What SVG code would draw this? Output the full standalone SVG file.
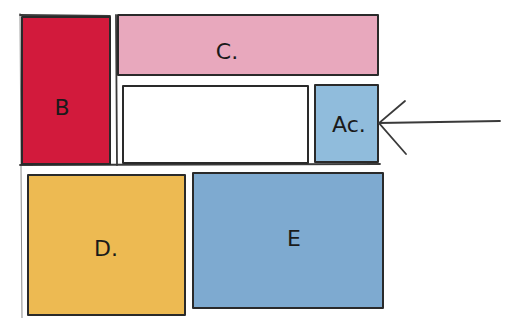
<svg xmlns="http://www.w3.org/2000/svg" width="507" height="324" viewBox="0 0 507 324">
<style>
.box{stroke:#2a2a2a;stroke-width:2;stroke-linejoin:round}
.ln{stroke:#3a3a3a;stroke-width:1.8;fill:none;stroke-linecap:round}
.thin{stroke:#8a8a8a;stroke-width:1;fill:none}
.lbl{font-family:"DejaVu Sans",sans-serif;font-size:22px;fill:#1a1a1a;text-anchor:middle;dominant-baseline:central}
</style>
<rect width="507" height="324" fill="#ffffff"/>
<g id="frame">
<line class="thin" x1="20" y1="13" x2="22" y2="318"/>
<line class="ln" x1="20" y1="165" x2="380" y2="164"/>
<line class="ln" x1="116" y1="15" x2="117" y2="165"/>
<line class="ln" x1="20" y1="15" x2="110" y2="16"/>
</g>
<g id="B">
<rect class="box" x="22" y="17" width="88" height="147" fill="#d21a3c"/>
<text class="lbl" x="62" y="107" font-size="26">B</text>
</g>
<g id="C">
<rect class="box" x="118" y="15" width="260" height="60" fill="#e8a8bd"/>
<text class="lbl" x="227" y="51">C.</text>
</g>
<g id="blank">
<rect class="box" x="123" y="86" width="185" height="77" fill="#ffffff"/>
</g>
<g id="Ac">
<rect class="box" x="315" y="85" width="63" height="77" fill="#90bcdc"/>
<text class="lbl" x="349" y="124" font-size="20">Ac.</text>
</g>
<g id="D">
<rect class="box" x="28" y="175" width="157" height="140" fill="#edba52"/>
<text class="lbl" x="106" y="248">D.</text>
</g>
<g id="E">
<rect class="box" x="193" y="173" width="190" height="135" fill="#7eaad0"/>
<text class="lbl" x="294" y="238">E</text>
</g>
<g id="connectors">
<line class="ln" x1="500" y1="121" x2="379" y2="123"/>
<polyline class="ln" points="405,101 379,123 406,154"/>
</g>
</svg>
